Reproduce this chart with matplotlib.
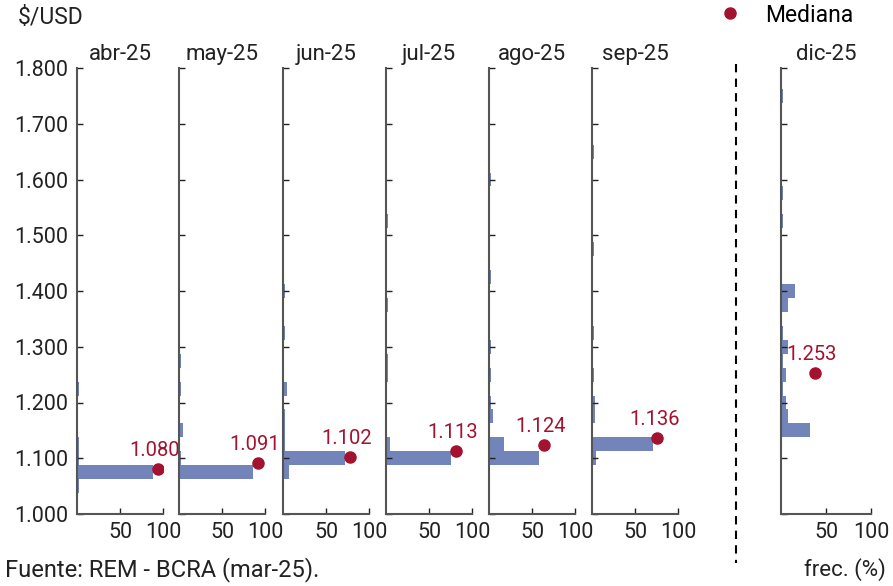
import matplotlib
matplotlib.use('Agg')
import matplotlib.pyplot as plt
from matplotlib.lines import Line2D

plt.rcParams['font.family'] = ['Roboto', 'DejaVu Sans']

meses = ['abr-25', 'may-25', 'jun-25', 'jul-25', 'ago-25', 'sep-25', 'dic-25']
medianas = [1080, 1091, 1102, 1113, 1124, 1136, 1253]

# centro de cada rango de tipo de cambio ($/USD) y frecuencia (%)
abr_tc = [1050, 1075, 1100, 1125, 1225]
abr_frec = [2.5, 88.5, 2.5, 2.5, 2.5]
may_tc = [1075, 1100, 1150, 1225, 1275]
may_frec = [86, 2.5, 5, 2.5, 2.5]
jun_tc = [1075, 1100, 1125, 1150, 1175, 1225, 1325, 1400]
jun_frec = [7.5, 72.5, 2.5, 2.5, 2.5, 5, 2.5, 2.5]
jul_tc = [1100, 1125, 1250, 1275, 1375, 1525]
jul_frec = [76, 5, 2.5, 2.5, 2.5, 2.5]
ago_tc = [1100, 1125, 1175, 1200, 1250, 1300, 1425, 1600]
ago_frec = [58.5, 18, 5, 2.5, 2.5, 2.5, 2.5, 2.5]
sep_tc = [1100, 1125, 1175, 1200, 1250, 1325, 1475, 1650]
sep_frec = [5, 70.5, 4, 4, 2.5, 2.5, 2.5, 2.5]
dic_tc = [1150, 1175, 1200, 1225, 1250, 1275, 1300, 1325, 1375, 1400, 1525, 1575, 1750]
dic_frec = [32, 7.5, 5, 2.5, 5, 2.5, 7.5, 2.5, 7.5, 15, 2.5, 2.5, 2.5]

tcs = [abr_tc, may_tc, jun_tc, jul_tc, ago_tc, sep_tc, dic_tc]
frecs = [abr_frec, may_frec, jun_frec, jul_frec, ago_frec, sep_frec, dic_frec]

bar_color = '#7284B9'
med_color = '#A3122F'
spine_color = '#555555'
txt_color = '#222222'

fig = plt.figure(figsize=(8.93, 5.86), dpi=100)

lefts = [77, 179, 283, 386, 489, 592, 781]
widths = [86, 86, 86, 86, 86, 86, 90]

def fmt(v):
    return f'{v:,.0f}'.replace(',', '.')

for i, mes in enumerate(meses):
    ax = fig.add_axes([lefts[i] / 893, 72 / 586, widths[i] / 893, 446 / 586])
    ax.barh(tcs[i], frecs[i], height=25, color=bar_color, linewidth=0)
    mx = max(frecs[i]) + 5.5
    ax.plot([mx], [medianas[i]], 'o', color=med_color, ms=8, zorder=5)
    ax.annotate(fmt(medianas[i]), (mx, medianas[i]), xytext=(-3, 9),
                textcoords='offset pixels', ha='center', va='bottom',
                color=med_color, fontsize=14.5)
    ax.set_xlim(0, 100)
    ax.set_ylim(1000, 1800)
    ax.set_xticks([50, 100])
    ax.set_yticks(range(1000, 1801, 100))
    if i == 0:
        ax.set_yticklabels([fmt(v) for v in range(1000, 1801, 100)])
    else:
        ax.set_yticklabels([])
    ax.tick_params(direction='in', length=4, width=1, color=txt_color,
                   labelsize=15.5, labelcolor=txt_color, pad=6)
    for s in ['top', 'right']:
        ax.spines[s].set_visible(False)
    for s in ['left', 'bottom']:
        ax.spines[s].set_color(spine_color)
        ax.spines[s].set_linewidth(1.5)
    ax.set_title(mes, fontsize=16, color=txt_color, pad=6)

fig.add_artist(Line2D([736 / 893, 736 / 893], [1 - 64 / 586, 1 - 563 / 586],
                      transform=fig.transFigure, color='black', lw=1.5,
                      ls=(0, (4, 3))))

fig.text(18 / 893, 1 - 18 / 586, '$/USD', fontsize=16.5, va='center', color=txt_color)
fig.text(5 / 893, 1 - 570 / 586, 'Fuente: REM - BCRA (mar-25).', fontsize=17,
         va='center', color=txt_color)
fig.text(886 / 893, 1 - 570 / 586, 'frec. (%)', fontsize=16, va='center',
         ha='right', color=txt_color)

h = Line2D([], [], marker='o', ls='', color=med_color, ms=8)
fig.legend([h], ['Mediana'], loc='center', bbox_to_anchor=(786 / 893, 1 - 15 / 586),
           frameon=False, fontsize=16.5, handlelength=1, handletextpad=1.0,
           borderpad=0)

fig.savefig('out.png', dpi=100)
